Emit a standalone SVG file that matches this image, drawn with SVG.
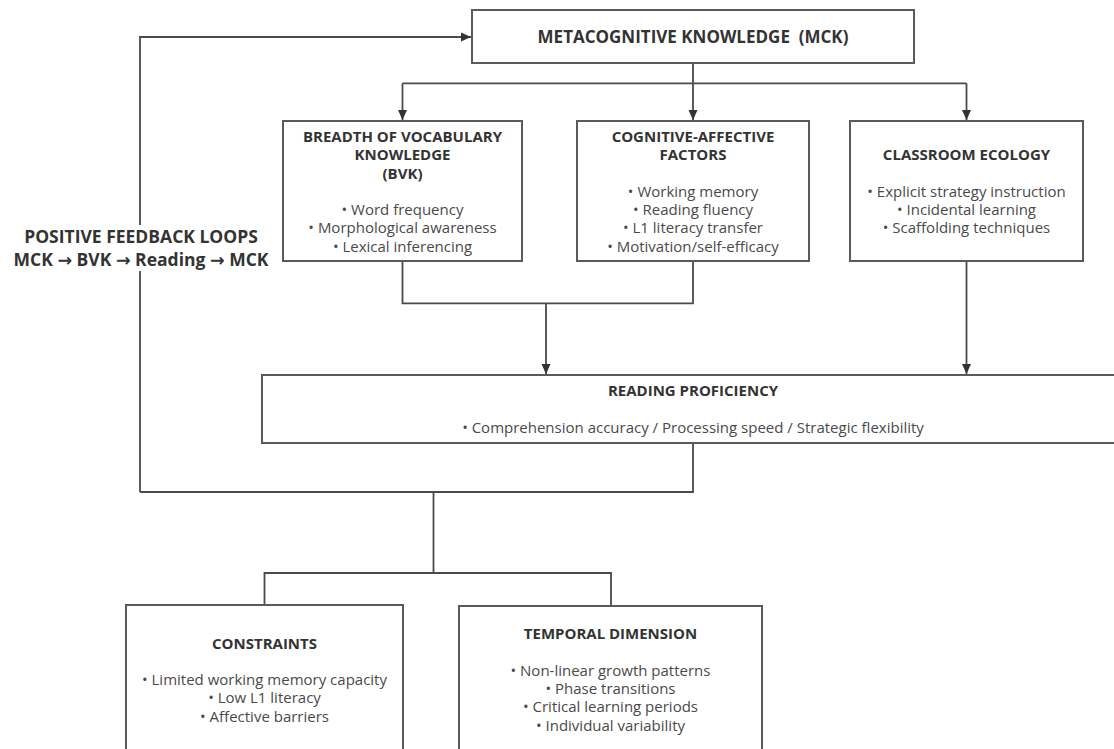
<svg xmlns="http://www.w3.org/2000/svg" width="1114" height="749" viewBox="0 0 1114 749">
<style>
.box{fill:#fff;stroke:#5a5a5a;stroke-width:2}
.ln{fill:none;stroke:#4a4a4a;stroke-width:1.8}
.t{font-family:"Open Sans","DejaVu Sans",sans-serif;font-weight:700;font-size:15px;fill:#333;text-anchor:middle}
.b{font-family:"Open Sans","DejaVu Sans",sans-serif;font-size:15px;fill:#4a4a4a;text-anchor:middle}
.fb{font-size:17.5px}
</style>
<defs>
<marker id="ah" viewBox="0 0 10 10" refX="10" refY="5" markerWidth="10" markerHeight="10" markerUnits="userSpaceOnUse" orient="auto">
<path d="M0,0.5 L10,5 L0,9.5 Z" fill="#333"/>
</marker>
</defs>
<g id="connectors">
<path class="ln" d="M140,492 L140,37 L471,37" marker-end="url(#ah)"/>
<path class="ln" d="M693,63 L693,120" marker-end="url(#ah)"/>
<path class="ln" d="M402.5,83.3 L966.5,83.3"/>
<path class="ln" d="M402.5,83.3 L402.5,120" marker-end="url(#ah)"/>
<path class="ln" d="M966.5,83.3 L966.5,120" marker-end="url(#ah)"/>
<path class="ln" d="M402.5,261 L402.5,303.3 L693,303.3 L693,261"/>
<path class="ln" d="M546,303.3 L546,374" marker-end="url(#ah)"/>
<path class="ln" d="M966.5,261 L966.5,374" marker-end="url(#ah)"/>
<path class="ln" d="M693,443 L693,492 L140,492"/>
<path class="ln" d="M433.5,492 L433.5,573"/>
<path class="ln" d="M264.5,605 L264.5,573 L611,573 L611,606"/>
</g>
<g id="feedback-label">
<rect x="4" y="225" width="274" height="46" fill="#fff"/>
<text class="t fb" x="141" y="243">POSITIVE FEEDBACK LOOPS</text>
<text class="t fb" x="141" y="265.5">MCK → BVK → Reading → MCK</text>
</g>
<g id="mck">
<rect class="box" x="472" y="10" width="442" height="53"/>
<text class="t" x="693" y="42.8" style="font-size:17px" xml:space="preserve">METACOGNITIVE KNOWLEDGE  (MCK)</text>
</g>
<g id="bvk">
<rect class="box" x="283" y="121" width="239" height="140"/>
<text class="t" x="402.5" y="142">BREADTH OF VOCABULARY</text>
<text class="t" x="402.5" y="160.4">KNOWLEDGE</text>
<text class="t" x="402.5" y="178.7">(BVK)</text>
<text class="b" x="402.5" y="215">• Word frequency</text>
<text class="b" x="402.5" y="233.3">• Morphological awareness</text>
<text class="b" x="402.5" y="251.7">• Lexical inferencing</text>
</g>
<g id="caf">
<rect class="box" x="577" y="121" width="232" height="140"/>
<text class="t" x="693" y="142">COGNITIVE-AFFECTIVE</text>
<text class="t" x="693" y="160.4">FACTORS</text>
<text class="b" x="693" y="196.7">• Working memory</text>
<text class="b" x="693" y="215">• Reading fluency</text>
<text class="b" x="693" y="233.3">• L1 literacy transfer</text>
<text class="b" x="693" y="251.7">• Motivation/self-efficacy</text>
</g>
<g id="ce">
<rect class="box" x="850" y="121" width="233" height="140"/>
<text class="t" x="966.5" y="160.4">CLASSROOM ECOLOGY</text>
<text class="b" x="966.5" y="196.7">• Explicit strategy instruction</text>
<text class="b" x="966.5" y="215">• Incidental learning</text>
<text class="b" x="966.5" y="233.3">• Scaffolding techniques</text>
</g>
<g id="reading">
<rect class="box" x="262" y="375" width="862" height="68"/>
<text class="t" x="693" y="396">READING PROFICIENCY</text>
<text class="b" x="693" y="433.3">• Comprehension accuracy / Processing speed / Strategic flexibility</text>
</g>
<g id="constraints">
<rect class="box" x="126" y="605" width="277" height="160"/>
<text class="t" x="264.5" y="648.7">CONSTRAINTS</text>
<text class="b" x="264.5" y="685">• Limited working memory capacity</text>
<text class="b" x="264.5" y="703.3">• Low L1 literacy</text>
<text class="b" x="264.5" y="721.7">• Affective barriers</text>
</g>
<g id="temporal">
<rect class="box" x="459" y="606" width="303" height="160"/>
<text class="t" x="610.5" y="639.2">TEMPORAL DIMENSION</text>
<text class="b" x="610.5" y="675.5">• Non-linear growth patterns</text>
<text class="b" x="610.5" y="693.8">• Phase transitions</text>
<text class="b" x="610.5" y="712.2">• Critical learning periods</text>
<text class="b" x="610.5" y="730.5">• Individual variability</text>
</g>
</svg>
